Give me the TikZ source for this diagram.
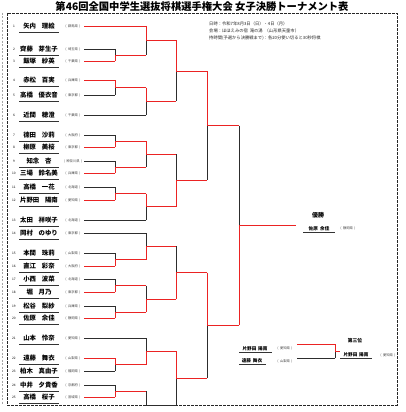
\documentclass[tikz,border=0pt]{standalone}
\usepackage{fontspec}
\newfontfamily\jp{Noto Sans CJK JP}
\usetikzlibrary{calc}
\definecolor{winred}{RGB}{235,35,35}
\definecolor{losegray}{RGB}{45,45,45}
\newcommand\plr[5]{%
  \node[num] (num#1) at (14,#2) {#1};
  \node[pname] (n#1) at (39,#2) {\makebox[38pt][c]{#3\hspace{0.9em}#4}};
  \draw[uline] (19,#2+6.5) -- (59,#2+6.5);
  \node[pref] (r#1) at (73,#2) {(\hspace{1.5pt}#5\hspace{1.5pt})};
  \coordinate (p#1) at (84,#2);
}
\newcommand\jn[4]{%
  \draw[#3] (#1) -- (#1 -| #2);
  \draw[#4] (#1 -| #2) -- (#2);
}
\begin{document}
\begin{tikzpicture}[x=1pt,y=-1pt,font=\jp,
  num/.style={font=\jp\fontsize{3.2}{4}\selectfont,inner sep=0pt},
  pname/.style={font=\jp\bfseries\fontsize{6.4}{7}\selectfont,inner sep=0pt},
  sname/.style={font=\jp\bfseries\fontsize{4.6}{5}\selectfont,inner sep=0pt},
  pref/.style={font=\jp\fontsize{3.3}{4}\selectfont,inner sep=0pt,text=black!75},
  info/.style={font=\jp\fontsize{4.3}{5}\selectfont,inner sep=0pt,anchor=west,text=black!85},
  uline/.style={draw=black!80,line width=0.9pt},
  W/.style={draw=winred,line width=0.8pt},
  L/.style={draw=losegray,line width=0.8pt},
  frame/.style={draw=black!85,line width=0.6pt,dash pattern=on 3pt off 1pt}]
\useasboundingbox (0,0) rectangle (405,412);
\fill[white] (0,0) rectangle (405,412);
\draw[frame] (7,13) rectangle (397,405);
\draw[draw=black!35,line width=0.5pt,dash pattern=on 2pt off 1.5pt] (2,13) -- (2,405);

\node[font=\jp\bfseries\fontsize{10.3}{12}\selectfont,inner sep=0pt] (title) at (202,7) {第46回全国中学生選抜将棋選手権大会 女子決勝トーナメント表};
\node[info] (i1) at (209,24) {日時：令和7年8月3日（日）・4日（月）};
\node[info] (i2) at (209,31) {会場：ほほえみの宿\ \ 滝の湯\ \ （山形県天童市）};
\node[info] (i3) at (209,38) {持時間(予選から決勝戦まで)：各20分使い切ると30秒将棋};

\plr{1}{26}{矢内}{理絵}{群馬県}
\plr{2}{49}{齊藤}{芽生子}{埼玉県}
\plr{3}{61}{飯塚}{紗英}{千葉県}
\plr{4}{80}{赤松}{百実}{兵庫県}
\plr{5}{95}{高橋}{優衣音}{東京都}
\plr{6}{115}{近間}{穂澄}{千葉県}
\plr{7}{135}{德田}{沙莉}{大阪府}
\plr{8}{147}{柳原}{美桜}{東京都}
\plr{9}{161}{知念}{杏}{神奈川県}
\plr{10}{173}{三場}{鈴名美}{兵庫県}
\plr{11}{187}{高橋}{一花}{北海道}
\plr{12}{200}{片野田}{陽南}{愛知県}
\plr{13}{220}{太田}{祥咲子}{北海道}
\plr{14}{233}{岡村}{のゆり}{東京都}
\plr{15}{253}{本間}{珠莉}{山梨県}
\plr{16}{266}{直江}{彩奈}{大阪府}
\plr{17}{279}{小西}{波菜}{北海道}
\plr{18}{292}{堀}{月乃}{東京都}
\plr{19}{306}{松谷}{梨紗}{兵庫県}
\plr{20}{318}{佐原}{余佳}{静岡県}
\plr{21}{338}{山本}{怜奈}{愛知県}
\plr{22}{358}{遠藤}{舞衣}{山梨県}
\plr{23}{371}{柏木}{真由子}{福岡県}
\plr{24}{385}{中井}{夕貴香}{京都府}
\plr{25}{397}{高橋}{桜子}{宮城県}

% round 1
\coordinate (a23) at (115,55);
\coordinate (a45) at (115,87.5);
\coordinate (a78) at (115,141);
\coordinate (a910) at (115,167);
\coordinate (a1112) at (115,193.5);
\coordinate (a1516) at (115,259.5);
\coordinate (a1718) at (115,285.5);
\coordinate (a1920) at (115,312);
\coordinate (a2223) at (115,364.5);
\coordinate (a2425) at (115,391);
\jn{p2}{a23}{L}{L} \jn{p3}{a23}{W}{W}
\jn{p4}{a45}{W}{W} \jn{p5}{a45}{L}{L}
\jn{p7}{a78}{L}{L} \jn{p8}{a78}{W}{W}
\jn{p9}{a910}{L}{L} \jn{p10}{a910}{W}{W}
\jn{p11}{a1112}{L}{L} \jn{p12}{a1112}{W}{W}
\jn{p15}{a1516}{L}{L} \jn{p16}{a1516}{W}{W}
\jn{p17}{a1718}{L}{L} \jn{p18}{a1718}{W}{W}
\jn{p19}{a1920}{L}{L} \jn{p20}{a1920}{W}{W}
\jn{p22}{a2223}{W}{W} \jn{p23}{a2223}{L}{L}
\jn{p24}{a2425}{L}{L} \jn{p25}{a2425}{W}{W}
% round 2
\coordinate (b1) at (146,40.5);
\coordinate (b2) at (146,101);
\coordinate (b3) at (146,154);
\coordinate (b4) at (146,206.5);
\coordinate (b5) at (146,246);
\coordinate (b6) at (146,299);
\coordinate (b7) at (146,351);
\coordinate (b8) at (146,405);
\jn{p1}{b1}{W}{W} \jn{a23}{b1}{W}{L}
\jn{a45}{b2}{W}{W} \jn{p6}{b2}{L}{L}
\jn{a78}{b3}{W}{W} \jn{a910}{b3}{W}{L}
\jn{a1112}{b4}{W}{W} \jn{p13}{b4}{L}{L}
\jn{p14}{b5}{L}{L} \jn{a1516}{b5}{W}{W}
\jn{a1718}{b6}{W}{L} \jn{a1920}{b6}{W}{W}
\jn{p21}{b7}{L}{L} \jn{a2223}{b7}{W}{W}
\jn{a2425}{b8}{W}{L}
% round 3
\coordinate (c1) at (176,71);
\coordinate (c2) at (176,180);
\coordinate (c3) at (176,272.5);
\coordinate (c4) at (176,378);
\jn{b1}{c1}{W}{W} \jn{b2}{c1}{W}{L}
\jn{b3}{c2}{W}{L} \jn{b4}{c2}{W}{W}
\jn{b5}{c3}{W}{L} \jn{b6}{c3}{W}{W}
\jn{b7}{c4}{W}{W} \jn{b8}{c4}{L}{L}
% semifinals
\coordinate (d1) at (207,125.5);
\coordinate (d2) at (207,325);
\jn{c1}{d1}{W}{W} \jn{c2}{d1}{W}{L}
\jn{c3}{d2}{W}{W} \jn{c4}{d2}{W}{L}
% final
\coordinate (f) at (239,225.5);
\coordinate (champ) at (296,225.5);
\jn{d1}{f}{W}{L} \jn{d2}{f}{W}{W}
\draw[W] (f) -- (champ);

\node[font=\jp\bfseries\fontsize{6}{7}\selectfont,inner sep=0pt] (yusho) at (318,215) {優勝};
\node[sname] (cn) at (319,228.8) {佐原\hspace{0.5em}余佳};
\draw[uline,line width=0.7pt] (303,232.5) -- (335,232.5);
\node[pref] (cp) at (348,228.8) {(\hspace{1.5pt}静岡県\hspace{1.5pt})};

% third place
\node[sname] (t1) at (255,348.5) {片野田\hspace{0.4em}陽南};
\draw[uline,line width=0.7pt] (239,352) -- (272,352);
\node[pref] (t1p) at (285,348.5) {(\hspace{1.5pt}愛知県\hspace{1.5pt})};
\node[sname] (t2) at (252,361) {遠藤\hspace{0.4em}舞衣};
\draw[uline,line width=0.7pt] (239,364.5) -- (266,364.5);
\node[pref] (t2p) at (285,361) {(\hspace{1.5pt}山梨県\hspace{1.5pt})};
\coordinate (q1) at (297,344);
\coordinate (q2) at (297,358);
\coordinate (qj) at (335,351);
\coordinate (qo) at (340,351);
\jn{q1}{qj}{W}{W} \jn{q2}{qj}{L}{L}
\draw[W] (qj) -- (qo);
\node[font=\jp\bfseries\fontsize{4.8}{5}\selectfont,inner sep=0pt] (third) at (355,341) {第三位};
\node[sname] (t3) at (356,355) {片野田\hspace{0.4em}陽南};
\draw[uline,line width=0.7pt] (340,358.5) -- (372,358.5);
\node[pref] (t3p) at (388,355) {(\hspace{1.5pt}愛知県\hspace{1.5pt})};
\end{tikzpicture}
\end{document}
